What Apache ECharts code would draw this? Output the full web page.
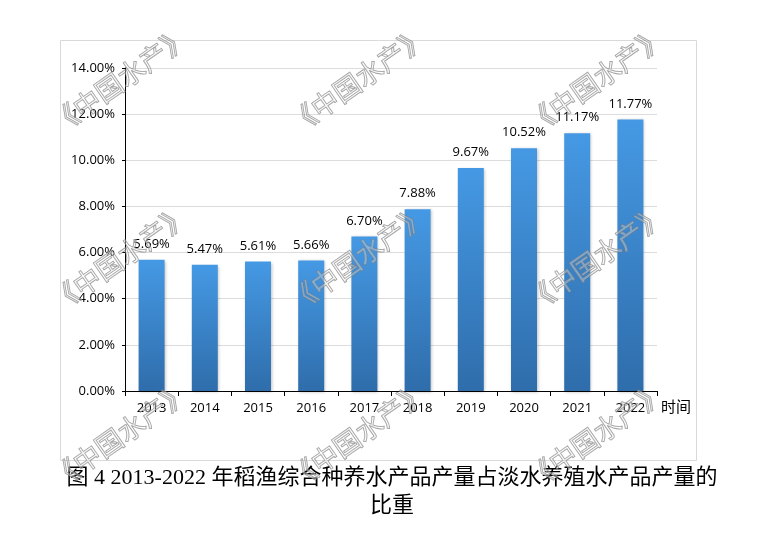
<!DOCTYPE html>
<html><head><meta charset="utf-8">
<script src="https://cdn.jsdelivr.net/npm/echarts@6/dist/echarts.min.js"></script>
<style>html,body{margin:0;padding:0;background:#fff}#c{width:770px;height:550px}</style>
</head><body><div id="c"></div>
<script>
const years = ['2013','2014','2015','2016','2017','2018','2019','2020','2021','2022'];
const shares = [5.69,5.47,5.61,5.66,6.70,7.88,9.67,10.52,11.17,11.77];
const yTicks = [0,2,4,6,8,10,12,14];
const titleLines = ['图 4 2013-2022 年稻渔综合种养水产品产量占淡水养殖水产品产量的','比重'];
const watermark = '《中国水产》';
const wmCols = [120, 358, 596];
const wmRows = [80, 258, 435];

const chart = echarts.init(document.getElementById('c'));
const wm = [];
wmRows.forEach(y => wmCols.forEach(x => wm.push({
  type:'text', x:x, y:y, rotation: 35*Math.PI/180, z:100,
  style:{text:watermark, font:'27px "Noto Sans CJK SC"', fill:'rgba(255,255,255,0.3)', stroke:'rgba(120,120,120,0.75)', lineWidth:1, align:'center', verticalAlign:'middle'}
})));
chart.setOption({
  animation:false,
  grid:{left:125,right:113,top:68,bottom:159},
  xAxis:{type:'category', data:years, name:'时间', nameLocation:'end', nameGap:4,
    nameTextStyle:{color:'#000',fontSize:15,fontFamily:'Noto Sans CJK SC',verticalAlign:'top',padding:[8,0,0,0]},
    axisLine:{lineStyle:{color:'#000',width:1}}, axisTick:{show:true,alignWithLabel:false,length:5,lineStyle:{color:'#000'}},
    axisLabel:{color:'#000',fontSize:13,fontFamily:'Open Sans',margin:11}},
  yAxis:{type:'value', min:yTicks[0], max:yTicks[yTicks.length-1], interval:2,
    axisLine:{show:true,lineStyle:{color:'#000',width:1}}, axisTick:{show:true,length:3,lineStyle:{color:'#000'}},
    splitLine:{lineStyle:{color:'#dcdcdc'}},
    axisLabel:{color:'#000',fontSize:13,fontFamily:'Open Sans',margin:10,formatter:v=>v.toFixed(2)+'%'}},
  series:[{type:'bar', data:shares, barWidth:26,
    itemStyle:{color:new echarts.graphic.LinearGradient(0,0,0,1,[{offset:0,color:'#4599e4'},{offset:1,color:'#2f6dab'}]),
      shadowColor:'rgba(0,0,0,0.25)',shadowBlur:3,shadowOffsetX:1,shadowOffsetY:1},
    label:{show:true,position:'top',distance:9,color:'#000',fontSize:13,fontFamily:'Open Sans',formatter:p=>p.value.toFixed(2)+'%'}}],
  graphic:[
    {type:'rect', shape:{x:60.5,y:40.5,width:636,height:420}, style:{fill:null,stroke:'#d9d9d9',lineWidth:1}, z:-1},
    {type:'text', x:392, y:478, style:{text:titleLines[0], font:'22px "Liberation Serif","Noto Sans CJK SC"', fill:'#000', align:'center', verticalAlign:'middle'}},
    {type:'text', x:392, y:506, style:{text:titleLines[1], font:'22px "Liberation Serif","Noto Sans CJK SC"', fill:'#000', align:'center', verticalAlign:'middle'}}
  ].concat(wm)
});
</script></body></html>
